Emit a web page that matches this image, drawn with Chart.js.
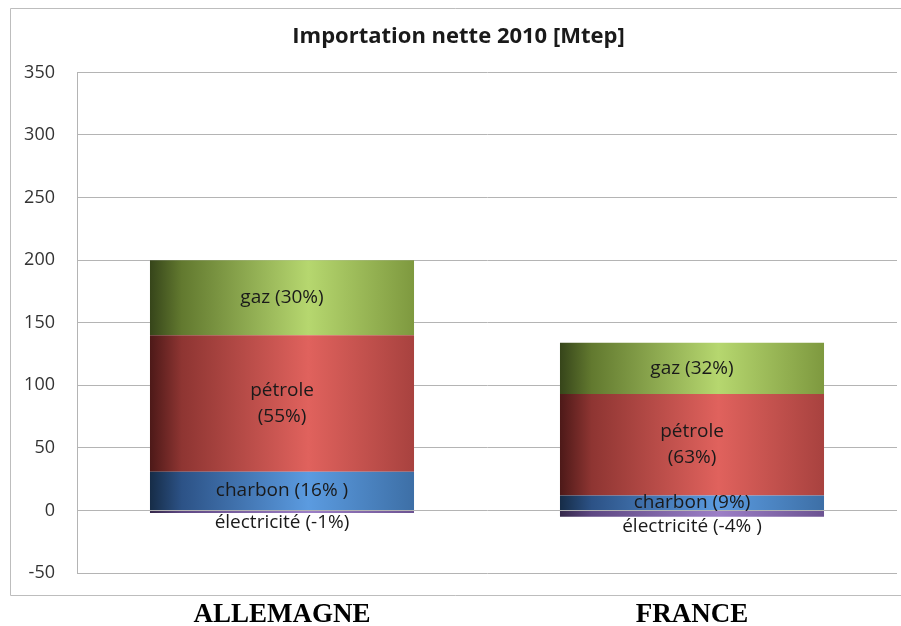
<!DOCTYPE html>
<html>
<head>
<meta charset="utf-8">
<script src="https://cdn.jsdelivr.net/npm/chart.js@4/dist/chart.umd.min.js"></script>
<style>
  html, body { margin: 0; background: #fff; }
</style>
</head>
<body>
<canvas id="chart" width="901" height="626"></canvas>
<script>
// Net imports 2010, in Mtep
const categories = ['ALLEMAGNE', 'FRANCE']
const charbon = [31, 12]
const petrole = [109, 81]
const gaz = [60, 41]
const electricite = [-2, -5]

const charbonLabels = ['charbon (16% )', 'charbon (9%)']
const petroleLabels = [['pétrole', '(55%)'], ['pétrole', '(63%)']]
const gazLabels = ['gaz (30%)', 'gaz (32%)']
const electriciteLabels = ['électricité (-1%)', 'électricité (-4% )']

const yTicks = { min: -50, max: 350, step: 50 }

const BAR_PERCENT = 0.644
const LABEL_FONT = '19px "Open Sans", sans-serif'

initChart()

function initChart() {
  const ctx = document.getElementById('chart')

  new Chart(ctx, {
    type: 'bar',
    data: {
      labels: categories,
      datasets: [
        { label: 'charbon', data: charbon, backgroundColor: barFill(['#162c47', '#2c5286', '#5b9be0', '#3d6fa6']), segLabels: charbonLabels },
        { label: 'pétrole', data: petrole, backgroundColor: barFill(['#4d1918', '#8e3532', '#e0625d', '#a8423f']), segLabels: petroleLabels },
        { label: 'gaz', data: gaz, backgroundColor: barFill(['#36451a', '#62792f', '#b6d76f', '#7e993f']), segLabels: gazLabels },
        { label: 'électricité', data: electricite, backgroundColor: barFill(['#35284a', '#5e4883', '#9c7fc6', '#6c5392']), segLabels: electriciteLabels, below: true },
      ],
    },
    options: {
      responsive: false,
      animation: false,
      devicePixelRatio: 1,
      layout: { padding: { left: 20, right: 4, top: 0, bottom: 0 } },
      datasets: {
        bar: { categoryPercentage: 1, barPercentage: BAR_PERCENT, borderWidth: 0 },
      },
      scales: {
        x: {
          stacked: true,
          grid: { display: false, drawTicks: false },
          border: { display: false },
          ticks: {
            padding: 26,
            color: '#000',
            font: { family: '"Liberation Serif", "Times New Roman", serif', size: 27, weight: 'bold' },
          },
          afterFit: (scale) => { scale.height = 53 },
        },
        y: {
          stacked: true,
          min: yTicks.min,
          max: yTicks.max,
          ticks: {
            stepSize: yTicks.step,
            padding: 22,
            color: '#333',
            font: { family: '"Open Sans", sans-serif', size: 18 },
          },
          grid: { color: '#b4b4b4', lineWidth: 1, drawTicks: false },
          border: { display: true, color: '#b4b4b4' },
          afterFit: (scale) => { scale.width = 57 },
        },
      },
      plugins: {
        legend: { display: false },
        tooltip: { enabled: false },
        title: {
          display: true,
          text: 'Importation nette 2010 [Mtep]',
          color: '#1a1a1a',
          font: { family: '"Open Sans", sans-serif', size: 22, weight: 'bold', lineHeight: 1.2 },
          padding: { top: 24, bottom: 22 },
        },
      },
    },
    plugins: [framePlugin(), segmentLabelPlugin()],
  })
}

/**
 * Horizontal gradient across one bar: dark left edge, highlight, darker right edge
 * @param {string[]} stops Four colours
 */
function barFill(stops) {
  return (context) => {
    const chart = context.chart
    const x = chart.scales.x
    if (!x || !chart.chartArea) return stops[2]
    const center = x.getPixelForValue(context.dataIndex)
    const half = (x.width / categories.length) * BAR_PERCENT / 2
    const g = chart.ctx.createLinearGradient(center - half, 0, center + half, 0)
    g.addColorStop(0, stops[0])
    g.addColorStop(0.12, stops[1])
    g.addColorStop(0.6, stops[2])
    g.addColorStop(1, stops[3])
    return g
  }
}

// Thin grey frame round the chart, open on the right
function framePlugin() {
  return {
    id: 'frame',
    beforeDraw(chart) {
      const c = chart.ctx
      c.save()
      c.strokeStyle = '#bdbdbd'
      c.lineWidth = 1
      c.beginPath()
      c.moveTo(901, 8.5)
      c.lineTo(10.5, 8.5)
      c.lineTo(10.5, 595.5)
      c.lineTo(901, 595.5)
      c.stroke()
      c.restore()
    },
  }
}

// Writes each segment's name and share inside (or under) its bar
function segmentLabelPlugin() {
  return {
    id: 'segmentLabels',
    afterDatasetsDraw(chart) {
      const c = chart.ctx
      c.save()
      c.font = LABEL_FONT
      c.fillStyle = '#1a1a1a'
      c.textAlign = 'center'
      c.textBaseline = 'middle'
      chart.data.datasets.forEach((ds, i) => {
        const meta = chart.getDatasetMeta(i)
        meta.data.forEach((bar, j) => {
          const text = ds.segLabels[j]
          const lines = Array.isArray(text) ? text : [text]
          const mid = ds.below ? bar.y + 10 : (bar.y + bar.base) / 2
          const lh = 26
          lines.forEach((line, k) => {
            c.fillText(line, bar.x, mid + (k - (lines.length - 1) / 2) * lh)
          })
        })
      })
      c.restore()
    },
  }
}
</script>
</body>
</html>
